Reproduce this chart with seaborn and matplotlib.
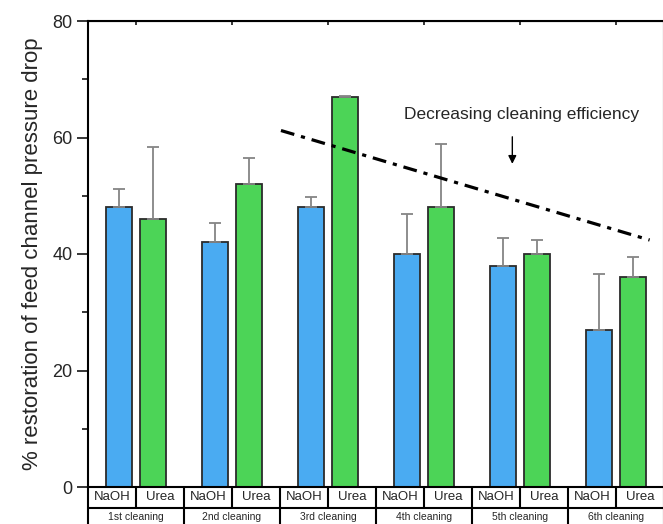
import numpy as np
import pandas as pd
import matplotlib
matplotlib.use('Agg')
import matplotlib.pyplot as plt
import matplotlib.transforms as mtransforms
import seaborn as sns

# data
cleanings = ['1st cleaning', '2nd cleaning', '3rd cleaning',
             '4th cleaning', '5th cleaning', '6th cleaning']
agents = ['NaOH', 'Urea']
naoh_mean = [48, 42, 48, 40, 38, 27]
urea_mean = [46, 52, 67, 48, 40, 36]
naoh_err = [3.2, 3.3, 1.8, 6.9, 4.7, 9.5]
urea_err = [12.4, 4.4, 0.15, 10.8, 2.4, 3.5]
trend_x = [1.51, 5.35]
trend_y = [61.2, 42.4]

df = pd.DataFrame({
    'cleaning': cleanings * 2,
    'agent': ['NaOH'] * 6 + ['Urea'] * 6,
    'value': naoh_mean + urea_mean,
})

sns.set_style('ticks')
plt.rcParams['font.family'] = ['Liberation Sans', 'DejaVu Sans']
plt.rcParams['lines.scale_dashes'] = False

fig = plt.figure(figsize=(6.63, 5.24), dpi=100)
ax = fig.add_axes([88 / 663, 1 - 487 / 524, 576 / 663, 466 / 524])

palette = {'NaOH': '#4aabf2', 'Urea': '#4cd457'}
sns.barplot(data=df, x='cleaning', y='value', hue='agent', order=cleanings,
            hue_order=agents, palette=palette, width=0.7, gap=0.21,
            errorbar=None, edgecolor='#2b2b2b', linewidth=1.3,
            saturation=1, legend=False, ax=ax)

# upper error bars
bars = ax.patches[:12]
errs = naoh_err + urea_err
for p, e in zip(bars, errs):
    xc = p.get_x() + p.get_width() / 2
    ax.errorbar(xc, p.get_height(), yerr=[[0], [e]], fmt='none',
                ecolor='#858585', elinewidth=1.3, capsize=4, capthick=1.3,
                zorder=1)

ax.set_xlim(-0.5, 5.5)
ax.set_ylim(0, 80)
ax.set_yticks([0, 20, 40, 60, 80])
ax.set_yticks([10, 30, 50, 70], minor=True)
ax.tick_params(axis='y', which='major', length=8, width=1.3, labelsize=13,
               direction='out', pad=3)
ax.tick_params(axis='y', which='minor', length=4, width=1.3, direction='out')
ax.set_xticks([])
ax.set_xlabel('')
ax.set_ylabel('% restoration of feed channel pressure drop', fontsize=16,
              labelpad=7)
for s in ax.spines.values():
    s.set_linewidth(1.5)
    s.set_color('black')

# small inward ticks on the top spine
top = ax.secondary_xaxis('top')
top.set_xticks(range(6))
top.set_xticklabels([])
top.tick_params(direction='in', length=3, width=1.3)

# trend line and note
ax.plot(trend_x, trend_y, color='black', lw=2.3,
        linestyle=(0, (10, 5, 3, 5)), zorder=5)
ax.text(4.02, 64, 'Decreasing cleaning efficiency', ha='center',
        va='center', fontsize=12.5)
ax.annotate('', xy=(3.92, 55.0), xytext=(3.92, 60.6),
            arrowprops=dict(arrowstyle='-|>', color='black', lw=1,
                            mutation_scale=12))

# table under the axis
trans = mtransforms.blended_transform_factory(ax.transData, ax.transAxes)
row1 = -21 / 466
row2 = -42 / 466
ax.plot([-0.5, 5.5], [row1, row1], color='black', lw=1.5,
        transform=trans, clip_on=False)
ax.plot([-0.5, 5.5], [row2, row2], color='black', lw=1.5,
        transform=trans, clip_on=False)
for i in range(7):
    xb = i - 0.5
    ax.plot([xb, xb], [0, row2], color='black', lw=1.5,
            transform=trans, clip_on=False)
for i in range(6):
    ax.plot([i, i], [0, row1], color='black', lw=1.5,
            transform=trans, clip_on=False)
    ax.text(i - 0.25, row1 / 2, agents[0], ha='center', va='center',
            fontsize=9.5, transform=trans)
    ax.text(i + 0.25, row1 / 2, agents[1], ha='center', va='center',
            fontsize=9.5, transform=trans)
    ax.text(i, (row1 + row2) / 2 + 0.003, cleanings[i], ha='center',
            va='center', fontsize=7.5, transform=trans)

fig.savefig('out.png', dpi=100)
